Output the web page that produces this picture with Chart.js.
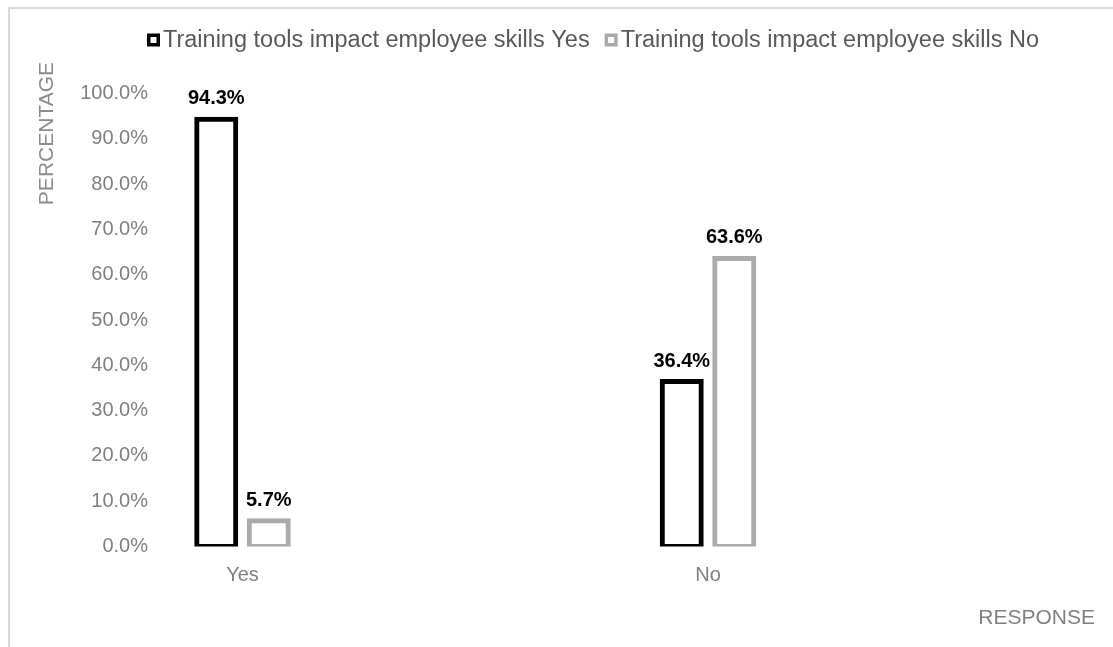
<!DOCTYPE html>
<html>
<head>
<meta charset="utf-8">
<title>Training tools impact employee skills</title>
<script src="https://cdn.jsdelivr.net/npm/chart.js@4.4.1/dist/chart.umd.min.js"></script>
<style>
  html, body { margin: 0; padding: 0; background: #fff; }
  /* thin frame, only top and left edges are visible */
  #frame {
    position: absolute; left: 8px; top: 7px; width: 1200px; height: 700px;
    border-top: 2px solid #d9d9d9; border-left: 2px solid #d9d9d9;
  }
  #wrap { position: absolute; left: 0; top: 0; width: 1113px; height: 647px; }
</style>
</head>
<body>
<div id="frame"></div>
<div id="wrap"><canvas id="chart" width="1113" height="647"></canvas></div>
<script>
// Chart data
const categories = ["Yes", "No"];
const seriesNames = [
  "Training tools impact employee skills Yes",
  "Training tools impact employee skills No"
];
const yesSeries = [94.3, 36.4];
const noSeries = [5.7, 63.6];
const seriesColors = ["#000000", "#aeaaaa"];

const FONT = "'Liberation Sans', Arial, sans-serif";

const toPoints = (values) => values.map((v, i) => ({ x: i, y: v }));

// Value labels above each bar
const valueLabels = {
  id: "valueLabels",
  afterDatasetsDraw(chart) {
    const ctx = chart.ctx;
    ctx.save();
    ctx.font = "bold 20px " + FONT;
    ctx.fillStyle = "#000";
    ctx.textAlign = "center";
    ctx.textBaseline = "alphabetic";
    chart.data.datasets.forEach((ds, di) => {
      chart.getDatasetMeta(di).data.forEach((bar, i) => {
        ctx.fillText(ds.data[i].y.toFixed(1) + "%", bar.x, bar.y - 15);
      });
    });
    ctx.restore();
  }
};

// Legend row and the vertical axis title
const legendAndTitle = {
  id: "legendAndTitle",
  afterDraw(chart) {
    const ctx = chart.ctx;
    ctx.save();
    ctx.font = "23.5px " + FONT;
    ctx.textBaseline = "middle";
    ctx.textAlign = "left";

    const box = 13, boxGap = 3, itemGap = 15;
    const items = chart.data.datasets.map((ds) => ({
      text: ds.label,
      color: ds.borderColor,
      w: box + boxGap + ctx.measureText(ds.label).width
    }));
    const total = items.reduce((s, it) => s + it.w, 0) + itemGap * (items.length - 1);
    let x = 593 - total / 2;
    const y = 40;
    items.forEach((it) => {
      ctx.fillStyle = it.color;
      ctx.fillRect(x, y - box / 2, box, box);
      ctx.fillStyle = "#fff";
      ctx.fillRect(x + 3.5, y - box / 2 + 3.5, box - 7, box - 7);
      ctx.fillStyle = "#595959";
      ctx.fillText(it.text, x + box + boxGap, y + 1);
      x += it.w + itemGap;
    });

    // y axis title, reads bottom to top
    ctx.font = "21px " + FONT;
    ctx.translate(47, 62);
    ctx.rotate(-Math.PI / 2);
    ctx.textAlign = "right";
    ctx.fillStyle = "#8c8c8c";
    ctx.fillText("PERCENTAGE", 0, 0);
    ctx.restore();
  }
};

const ctx = document.getElementById("chart").getContext("2d");

new Chart(ctx, {
  type: "bar",
  data: {
    datasets: [
      {
        label: seriesNames[0],
        data: toPoints(yesSeries),
        backgroundColor: "#ffffff",
        borderColor: seriesColors[0],
        borderWidth: 5,
        borderSkipped: false,
        inflateAmount: 2.5
      },
      {
        label: seriesNames[1],
        data: toPoints(noSeries),
        backgroundColor: "#ffffff",
        borderColor: seriesColors[1],
        borderWidth: 5,
        borderSkipped: false,
        inflateAmount: 2.5
      }
    ]
  },
  options: {
    responsive: false,
    animation: false,
    categoryPercentage: 0.2256,
    barPercentage: 0.743,
    layout: { padding: { top: 93.5, right: 18, bottom: 0, left: 0 } },
    plugins: {
      legend: { display: false },
      tooltip: { enabled: false }
    },
    scales: {
      x: {
        type: "linear",
        offset: false,
        min: -0.1944,
        max: 1.8314,
        grid: { display: false, drawTicks: false },
        border: { display: false },
        ticks: {
          stepSize: 1,
          includeBounds: false,
          padding: 16.5,
          color: "#808080",
          font: { family: FONT, size: 20 },
          callback: (value) => categories[value] ?? ""
        },
        title: {
          display: true,
          text: "RESPONSE",
          align: "end",
          color: "#808080",
          font: { family: FONT, size: 21 },
          padding: { top: 0, bottom: 16.4 }
        },
        afterFit: (scale) => { scale.height = 100.5; }
      },
      y: {
        min: 0,
        max: 100,
        grid: { display: false, drawTicks: false },
        border: { display: false },
        ticks: {
          stepSize: 10,
          padding: 4,
          color: "#808080",
          font: { family: FONT, size: 20 },
          callback: (value) => value.toFixed(1) + "%"
        },
        afterFit: (scale) => { scale.width = 152; }
      }
    }
  },
  plugins: [valueLabels, legendAndTitle]
});
</script>
</body>
</html>
